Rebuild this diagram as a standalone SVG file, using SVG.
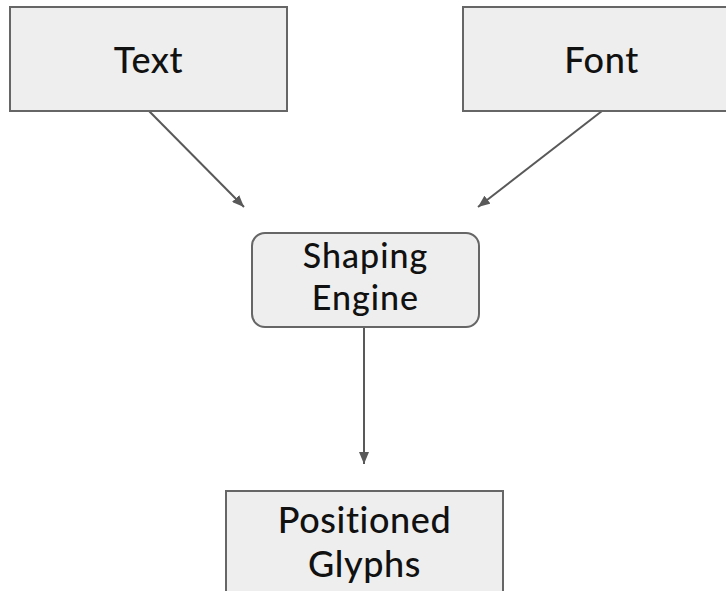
<svg xmlns="http://www.w3.org/2000/svg" width="726" height="591" viewBox="0 0 726 591">
  <style>
    .box { fill: #eeeeee; stroke: #666666; stroke-width: 2; }
    .label { font-family: "Lato", "DejaVu Sans", sans-serif; font-size: 36px; font-weight: 500; letter-spacing: 0.6px; fill: #111111; text-anchor: middle; }
    .tight { font-size: 34px; letter-spacing: 1px; }
    .edge { stroke: #595959; stroke-width: 2; fill: none; marker-end: url(#head); }
  </style>
  <defs>
    <marker id="head" viewBox="0 0 12 10" refX="12" refY="5" markerWidth="12" markerHeight="10" markerUnits="userSpaceOnUse" orient="auto">
      <path d="M0,0 L12,5 L0,10 Z" fill="#595959"/>
    </marker>
  </defs>
  <rect width="726" height="591" fill="#ffffff"/>

  <g id="connectors">
    <line class="edge" x1="149" y1="111" x2="244" y2="207"/>
    <line class="edge" x1="602" y1="111" x2="478" y2="207"/>
    <line class="edge" x1="364" y1="327" x2="364" y2="464"/>
  </g>

  <g id="text-node">
    <rect class="box" x="10" y="7" width="277" height="104"/>
    <text class="label" x="148.5" y="73">Text</text>
  </g>

  <g id="font-node">
    <rect class="box" x="463" y="7" width="277" height="104"/>
    <text class="label" x="601.5" y="73">Font</text>
  </g>

  <g id="shaping-engine">
    <rect class="box" x="252" y="233" width="227" height="94" rx="13" ry="13"/>
    <text class="label tight" x="365.5" y="268">Shaping</text>
    <text class="label tight" x="365.5" y="310">Engine</text>
  </g>

  <g id="positioned-glyphs">
    <rect class="box" x="226" y="491" width="277" height="110"/>
    <text class="label" x="364.5" y="533">Positioned</text>
    <text class="label" x="364.5" y="577">Glyphs</text>
  </g>
</svg>
